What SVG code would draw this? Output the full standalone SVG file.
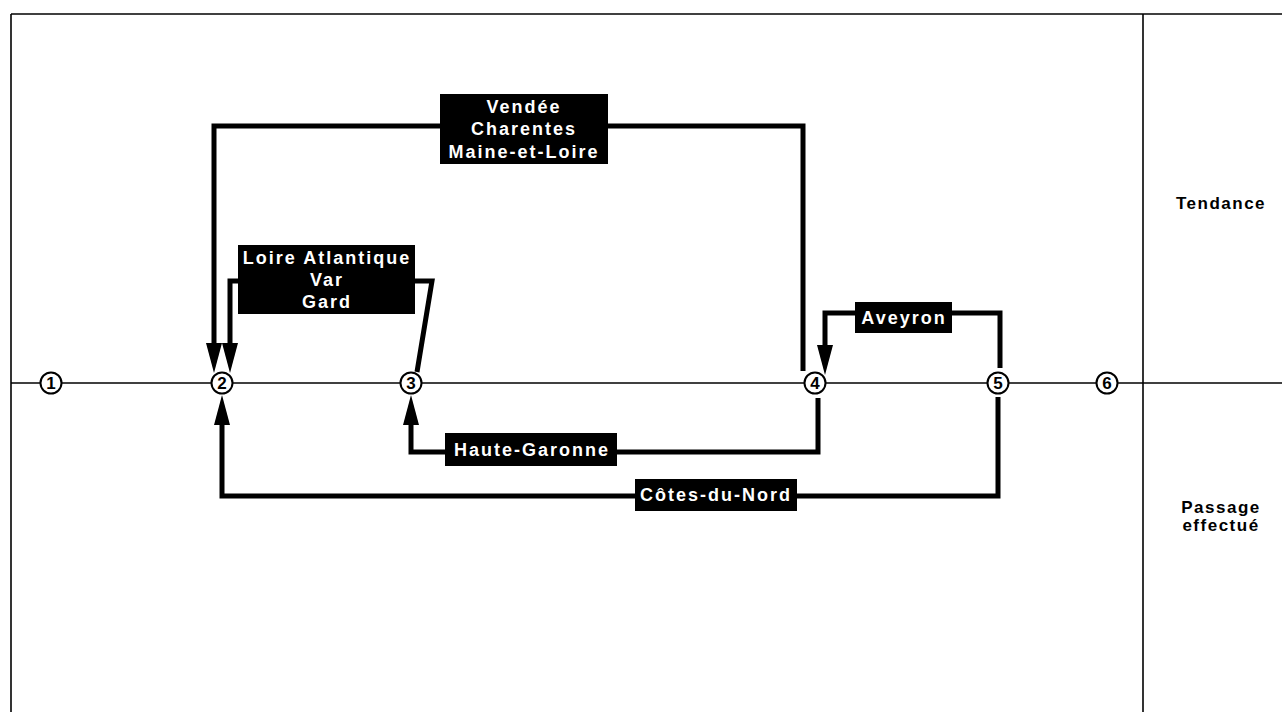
<svg xmlns="http://www.w3.org/2000/svg" width="1282" height="712" viewBox="0 0 1282 712">
<style>
.frame{stroke:#000;stroke-width:1.6;fill:none}
.axis{stroke:#000;stroke-width:1.4;fill:none}
.conn{stroke:#000;stroke-width:5;fill:none;stroke-linejoin:miter;stroke-linecap:butt}
.box{fill:#000}
.lbl{font-family:"Liberation Sans",Arial,sans-serif;font-weight:bold;font-size:18px;fill:#fff;text-anchor:middle;letter-spacing:2px}
.side{font-family:"Liberation Sans",Arial,sans-serif;font-weight:bold;font-size:17px;fill:#000;text-anchor:middle;letter-spacing:1.5px}
.st{fill:#fff;stroke:#000;stroke-width:2}
.num{font-family:"Liberation Sans",Arial,sans-serif;font-weight:bold;font-size:17px;fill:#000;text-anchor:middle}
</style>
<defs>
<marker id="ah" markerUnits="userSpaceOnUse" markerWidth="32" markerHeight="18" refX="0" refY="8" orient="auto" viewBox="0 0 32 16">
<path d="M0,0 L30,8 L0,16 z" fill="#000"/>
</marker>
</defs>
<rect width="1282" height="712" fill="#fff"/>
<g id="frame">
<line class="frame" x1="11" y1="14" x2="1282" y2="14"/>
<line class="frame" x1="11" y1="14" x2="11" y2="712"/>
<line class="frame" x1="1143" y1="14" x2="1143" y2="712"/>
<line class="axis" x1="11" y1="383" x2="1282" y2="383"/>
<text class="side" x="1221" y="209">Tendance</text>
<text class="side" x="1221" y="513">Passage</text>
<text class="side" x="1221" y="531">effectué</text>
</g>
<g id="connectors">
<path class="conn" d="M803,371 V126 H214 V343" marker-end="url(#ah)"/>
<path class="conn" d="M417,372 L432,281 H230 V343" marker-end="url(#ah)"/>
<path class="conn" d="M1000,368 V313 H825 V345" marker-end="url(#ah)"/>
<path class="conn" d="M818,398 V452 H411 V425" marker-end="url(#ah)"/>
<path class="conn" d="M998,397 V496 H222 V425" marker-end="url(#ah)"/>
</g>
<g id="label-vendee">
<rect class="box" x="440" y="94" width="168" height="70"/>
<text class="lbl" x="524" y="113">Vendée</text>
<text class="lbl" x="524" y="135">Charentes</text>
<text class="lbl" x="524" y="158">Maine-et-Loire</text>
</g>
<g id="label-loire">
<rect class="box" x="238" y="245" width="177" height="69"/>
<text class="lbl" x="327" y="264">Loire Atlantique</text>
<text class="lbl" x="327" y="286">Var</text>
<text class="lbl" x="327" y="308">Gard</text>
</g>
<g id="label-aveyron">
<rect class="box" x="855" y="302" width="97" height="31"/>
<text class="lbl" x="904" y="324">Aveyron</text>
</g>
<g id="label-haute-garonne">
<rect class="box" x="445" y="433" width="172" height="33"/>
<text class="lbl" x="532" y="456">Haute-Garonne</text>
</g>
<g id="label-cotes">
<rect class="box" x="635" y="479" width="162" height="32"/>
<text class="lbl" x="716" y="501">Côtes-du-Nord</text>
</g>
<g id="state-1"><circle class="st" cx="51" cy="383" r="10.5"/><text class="num" x="51" y="389">1</text></g>
<g id="state-2"><circle class="st" cx="222" cy="383" r="10.5"/><text class="num" x="222" y="389">2</text></g>
<g id="state-3"><circle class="st" cx="411" cy="383" r="10.5"/><text class="num" x="411" y="389">3</text></g>
<g id="state-4"><circle class="st" cx="815" cy="383" r="10.5"/><text class="num" x="815" y="389">4</text></g>
<g id="state-5"><circle class="st" cx="998" cy="383" r="10.5"/><text class="num" x="998" y="389">5</text></g>
<g id="state-6"><circle class="st" cx="1107" cy="383" r="10.5"/><text class="num" x="1107" y="389">6</text></g>
</svg>
